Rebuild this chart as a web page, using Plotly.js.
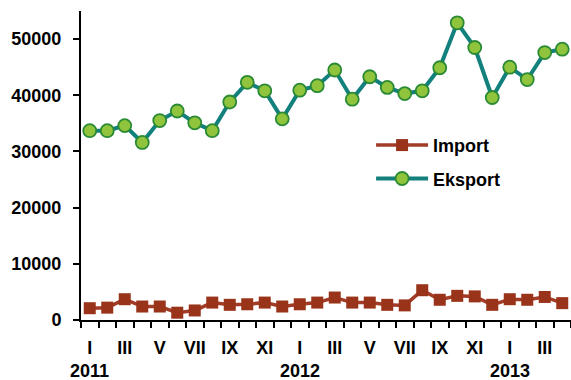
<!DOCTYPE html>
<html><head><meta charset="utf-8">
<script src="https://cdn.plot.ly/plotly-3.0.1.min.js"></script>
<style>html,body{margin:0;padding:0;overflow:hidden;background:#fff}</style>
</head><body><div id="chart" style="width:571px;height:380px"></div>
<script>
const months = ['I','II','III','IV','V','VI','VII','VIII','IX','X','XI','XII',
                'I','II','III','IV','V','VI','VII','VIII','IX','X','XI','XII',
                'I','II','III','IV'];
const years = ['2011','2012','2013'];
const yearIndex = [0, 12, 24];
const importVals = [2100,2200,3700,2400,2400,1300,1700,3100,2700,2800,3100,2400,
                    2800,3100,4000,3100,3100,2700,2600,5300,3600,4300,4200,2700,
                    3700,3600,4100,3000];
const eksportVals = [33700,33700,34600,31600,35500,37200,35100,33700,38800,42300,40800,35800,
                     40900,41700,44500,39300,43300,41400,40300,40800,44900,52900,48500,39600,
                     45000,42800,47600,48200];
const yTicks = [0,10000,20000,30000,40000,50000];

const idx = months.map((m,i)=>i);
const labelVals = idx.filter(i=>i%2===0);
const labelText = labelVals.map(i=>months[i]);
const betweenVals = [...idx.map(i=>i-0.5), months.length-0.5];

const FONT = 'Liberation Sans, Arial, sans-serif';
const FS = 18;

const traces = [
  {x: idx, y: importVals, name: 'Import', type: 'scatter', mode: 'lines+markers',
   legendgroup: 'a',
   line: {color: '#a23c27', width: 3.5},
   marker: {symbol: 'square', size: 12, color: '#993319', line: {width: 0}}},
  {x: idx, y: eksportVals, name: 'Eksport', type: 'scatter', mode: 'lines+markers',
   legendgroup: 'b',
   line: {color: '#12807c', width: 4},
   marker: {symbol: 'circle', size: 13, color: '#8fc43c', line: {color: '#2a8a35', width: 1.8}}}
];

const layout = {
  width: 571, height: 380,
  margin: {l: 81, r: 0, t: 11, b: 60},
  paper_bgcolor: '#fff', plot_bgcolor: '#fff',
  font: {family: FONT, size: FS, color: '#000', weight: 'bold'},
  showlegend: true,
  legend: {x: 0.592, y: 0.625, xanchor: 'left', yanchor: 'top', bgcolor: 'rgba(0,0,0,0)',
           font: {family: FONT, size: FS, weight: 'bold'}, tracegroupgap: 7,
           itemwidth: 52},
  xaxis: {
    range: [-0.5, months.length - 0.5],
    tickmode: 'array', tickvals: labelVals, ticktext: labelText,
    ticks: '', ticklabelstandoff: 10,
    showgrid: false, zeroline: false,
    showline: true, linecolor: '#000', linewidth: 2,
    tickfont: {family: FONT, size: FS, weight: 'bold'},
    minor: {tickmode: 'array', tickvals: betweenVals, ticks: 'outside', ticklen: 6,
            tickwidth: 2, tickcolor: '#000', showgrid: false}
  },
  yaxis: {
    range: [0, 55000],
    tickmode: 'array', tickvals: yTicks, ticktext: yTicks.map(String),
    ticks: 'outside', ticklen: 6, tickwidth: 2, tickcolor: '#000',
    ticklabelstandoff: 8,
    showgrid: false, zeroline: false,
    showline: true, linecolor: '#000', linewidth: 2,
    tickfont: {family: FONT, size: FS, weight: 'bold'}
  },
  annotations: years.map((t,k)=>({
    x: yearIndex[k], y: -0.165, xref: 'x', yref: 'paper',
    text: t, showarrow: false, xanchor: 'center', yanchor: 'middle',
    font: {family: FONT, size: FS, weight: 'bold', color: '#000'}
  }))
};

Plotly.newPlot('chart', traces, layout, {displayModeBar: false, staticPlot: true});
</script></body></html>
